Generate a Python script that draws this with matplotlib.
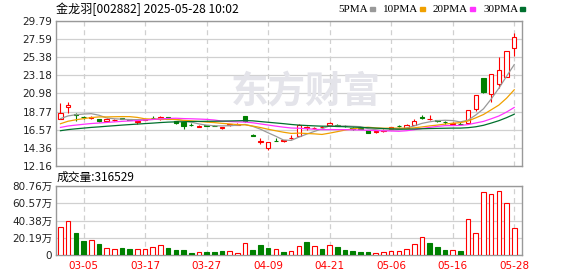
import numpy as np
import pandas as pd
import matplotlib
matplotlib.use('Agg')
import matplotlib.pyplot as plt
from matplotlib.patches import Rectangle

plt.rcParams['font.family'] = ['DejaVu Sans', 'Noto Sans CJK SC']

# ---- data ----
dates = ['02-28',
         '03-03', '03-04', '03-05', '03-06', '03-07', '03-10', '03-11', '03-12', '03-13', '03-14',
         '03-17', '03-18', '03-19', '03-20', '03-21', '03-24', '03-25', '03-26', '03-27', '03-28',
         '03-31', '04-01', '04-02', '04-03', '04-07', '04-08', '04-09', '04-10', '04-11',
         '04-14', '04-15', '04-16', '04-17', '04-18', '04-21', '04-22', '04-23', '04-24', '04-25',
         '04-28', '04-29', '04-30', '05-06', '05-07', '05-08', '05-09',
         '05-12', '05-13', '05-14', '05-15', '05-16', '05-19', '05-20', '05-21', '05-22', '05-23',
         '05-26', '05-27', '05-28']

opens = [17.92, 19.34, 18.54, 18.15, 18.00, 17.85, 17.65, 17.75, 17.95, 17.85,
         17.55, 17.75, 18.02, 17.85, 18.10, 17.60, 17.52, 17.20, 16.95, 17.12,
         17.08, 16.82, 17.10, 17.20, 18.20, 15.90, 15.10, 14.30, 15.25, 15.15,
         15.55, 15.80, 16.75, 16.78, 16.85, 17.11, 17.20, 17.05, 16.83, 16.74,
         16.50, 16.33, 16.45, 16.70, 17.02, 16.83, 17.19, 18.12, 17.84, 17.72,
         17.50, 17.30, 17.28, 17.35, 19.10, 22.89, 20.97, 22.07, 23.00, 26.50]
highs = [19.83, 20.00, 18.60, 18.30, 18.20, 17.90, 17.95, 17.85, 18.00, 17.90,
         17.70, 17.90, 18.20, 18.20, 18.12, 17.65, 17.55, 17.40, 17.10, 17.20,
         17.12, 16.95, 17.30, 17.35, 18.25, 16.10, 15.55, 15.10, 15.60, 15.35,
         15.90, 17.30, 17.00, 16.95, 17.05, 17.50, 17.25, 17.10, 16.85, 16.80,
         16.55, 16.40, 16.65, 16.95, 17.15, 17.22, 17.92, 18.40, 18.33, 17.80,
         17.60, 17.45, 17.50, 18.95, 20.81, 22.89, 23.32, 25.44, 26.19, 28.30]
lows = [17.85, 18.60, 17.65, 17.85, 17.90, 17.55, 17.60, 17.65, 17.85, 17.75,
        17.30, 17.70, 17.85, 17.80, 17.85, 17.30, 16.70, 17.00, 16.90, 17.00,
        16.98, 16.60, 17.05, 17.15, 17.55, 15.84, 14.80, 14.05, 15.20, 15.05,
        15.50, 15.75, 16.50, 16.70, 16.80, 17.08, 16.97, 16.95, 16.55, 16.65,
        16.20, 16.15, 16.30, 16.68, 16.90, 16.80, 17.15, 17.90, 17.80, 17.50,
        17.30, 17.25, 17.10, 17.23, 18.80, 21.05, 19.95, 21.70, 23.00, 25.55]
closes = [18.55, 19.55, 18.33, 18.10, 18.08, 17.62, 17.90, 17.80, 17.88, 17.80,
          17.62, 17.82, 17.97, 18.10, 17.87, 17.35, 17.00, 17.12, 17.05, 17.08,
          17.02, 16.90, 17.25, 17.30, 17.60, 15.84, 15.20, 15.05, 15.20, 15.30,
          15.61, 17.20, 16.85, 16.83, 16.90, 17.44, 17.00, 16.99, 16.60, 16.70,
          16.22, 16.37, 16.50, 16.90, 16.98, 17.19, 17.59, 18.05, 17.84, 17.68,
          17.45, 17.40, 17.23, 18.92, 20.81, 21.20, 23.32, 23.81, 26.19, 27.90]
# closes before the visible window, estimated from where the MA lines start
prior_closes = [15.4, 15.5, 15.6, 15.5, 15.7, 15.6, 15.8, 15.7, 15.9, 15.8,
                16.0, 16.2, 16.1, 16.3, 16.4, 16.5, 16.4, 16.6, 16.7, 16.8,
                16.5, 16.6, 16.7, 16.8, 16.8, 17.9, 17.6, 17.7, 17.85]

# volume in 万手
volumes = [32.4, 39.4, 25.7, 16.4, 17.2, 12.9, 7.8, 6.6, 8.2, 7.0,
           6.6, 7.0, 9.0, 11.3, 8.2, 5.9, 5.5, 2.3, 3.1, 3.5,
           3.5, 4.7, 4.3, 2.7, 13.7, 5.9, 11.7, 8.6, 6.6, 3.5,
           4.3, 10.1, 15.2, 10.1, 7.0, 11.3, 9.4, 5.9, 4.7, 3.5,
           3.5, 2.3, 3.1, 4.7, 4.7, 7.0, 12.5, 20.7, 14.0, 9.4,
           5.9, 5.9, 4.7, 42.1, 25.4, 73.4, 71.0, 74.9, 60.5, 31.65]
vol_up = [1, 1, 0, 0, 1, 0, 1, 1, 0, 0,
          1, 1, 1, 1, 0, 0, 0, 0, 1, 0,
          0, 0, 1, 1, 1, 0, 0, 0, 1, 0,
          1, 1, 0, 1, 0, 1, 0, 0, 0, 0,
          0, 1, 1, 1, 1, 1, 1, 1, 0, 0,
          0, 1, 0, 1, 1, 1, 1, 1, 1, 1]
last_volume = 316529

ma_windows = [5, 10, 20, 30]
ma_colors = ['#999999', '#f0a000', '#ff33ff', '#00702e']

price_ticks = [12.16, 14.36, 16.57, 18.77, 20.98, 23.18, 25.38, 27.59, 29.79]
vol_ticks = [0, 20.19, 40.38, 60.57, 80.76]
label_every = 8

RED = '#ff0000'
GREEN = '#008000'
GRID = '#d0d0d0'
BORDER = '#999999'

W, H = 578, 276


def fx(px):
    return px / W


def fy(py):
    return 1 - py / H


fig = plt.figure(figsize=(W / 100, H / 100), dpi=100)
ax = fig.add_axes([fx(55.7), fy(166), fx(522.3 - 55.7), (166 - 21) / H])
axv = fig.add_axes([fx(55.7), fy(255), fx(522.3 - 55.7), (255 - 186) / H])

n = len(closes)
x = np.arange(n)
tick_pos = x[3::label_every]
xlim = (-0.62, n + 0.05)

for a in (ax, axv):
    a.set_xlim(*xlim)
    a.set_axisbelow(True)
    for s in a.spines.values():
        s.set_color(BORDER)
        s.set_linewidth(1)
    a.tick_params(length=0, labelsize=7.5, pad=2.5, colors='#222222')
    a.grid(axis='y', color=GRID, lw=0.9, ls='-')
    for t in tick_pos:
        a.axvline(t, color=GRID, lw=0.9, ls=(0, (4, 3)), zorder=0.5)

# ---- candles ----
body_w = 0.58
for i in range(n):
    up = closes[i] >= opens[i]
    col = RED if up else GREEN
    ax.vlines(i, lows[i], highs[i], color=col, lw=0.8, zorder=3)
    bottom = min(opens[i], closes[i])
    height = max(abs(closes[i] - opens[i]), 0.02)
    ax.add_patch(Rectangle((i - body_w / 2, bottom), body_w, height,
                           facecolor='white' if up else col, edgecolor=col,
                           lw=0.8, zorder=4))

all_closes = pd.Series(prior_closes + closes)
for win, col in zip(ma_windows, ma_colors):
    ma = all_closes.rolling(win).mean().to_numpy()[-n:]
    ax.plot(x, ma, color=col, lw=0.9, zorder=5)

ax.set_ylim(price_ticks[0], price_ticks[-1])
ax.set_yticks(price_ticks)
ax.set_yticklabels(['%.2f' % v for v in price_ticks])
ax.set_xticks(tick_pos)
ax.set_xticklabels([])

# watermark
fig.text(fx(231), fy(92), '东方财富', fontsize=27, fontweight='bold',
         color='#e4e4ea', family=['Noto Sans CJK SC'], va='center', ha='left',
         zorder=0)

# ---- volume ----
vcols = [RED if u else GREEN for u in vol_up]
vfaces = ['white' if u else GREEN for u in vol_up]
axv.bar(x, volumes, width=0.6, color=vfaces, edgecolor=vcols, lw=0.8, zorder=3)
axv.set_ylim(vol_ticks[0], vol_ticks[-1])
axv.set_yticks(vol_ticks)
axv.set_yticklabels(['0' if v == 0 else '%.2f万' % v for v in vol_ticks])
axv.set_xticks(tick_pos)
axv.set_xticklabels([dates[i] for i in tick_pos], color=RED)
axv.tick_params(axis='x', pad=4)

# ---- header texts ----
fig.text(fx(56), fy(9), '金龙羽[002882] 2025-05-28 10:02', fontsize=8.7,
         family=['Noto Sans CJK SC'], va='center', ha='left')
fig.text(fx(57), fy(177), '成交量:%d' % last_volume, fontsize=8.5,
         family=['Noto Sans CJK SC'], va='center', ha='left')

# MA legend
renderer = fig.canvas.get_renderer()
cur = 338
for win, col in zip(ma_windows, ma_colors):
    t = fig.text(fx(cur), fy(9), '%dPMA' % win, fontsize=8,
                 family=['Liberation Serif'], va='center', ha='left')
    tw = t.get_window_extent(renderer).width
    mx = cur + tw + 2
    fig.patches.append(Rectangle((fx(mx), fy(10.5)), fx(5), 3 / H,
                                 transform=fig.transFigure, color=col))
    cur = mx + 13

fig.savefig('out.png', dpi=100)
